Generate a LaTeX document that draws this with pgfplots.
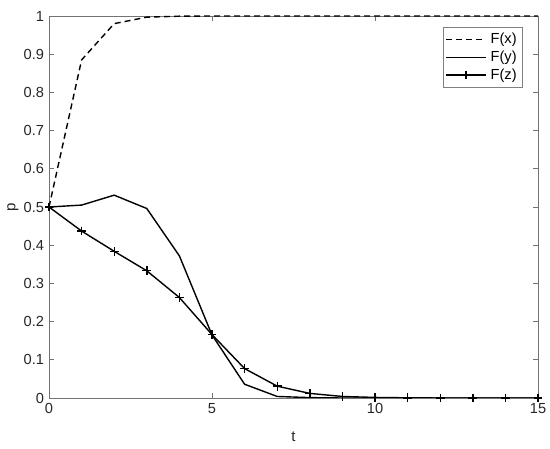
\documentclass[border=0pt]{standalone}
\usepackage{fontspec}
\setmainfont{Liberation Sans}
\usepackage{pgfplots}
\pgfplotsset{compat=1.18}

\begin{document}
\fontsize{7bp}{8bp}\selectfont
\begin{tikzpicture}
\useasboundingbox (-24.5bp,-25.5bp) rectangle (250.5bp,199bp);
\begin{axis}[
  at={(0,0)}, anchor=south west,
  scale only axis,
  width=244.5bp, height=191bp,
  xmin=0, xmax=15, ymin=0, ymax=1,
  xtick={0,5,10,15},
  ytick={0,0.1,...,1},
  yticklabel style={/pgf/number format/fixed, /pgf/number format/precision=1},
  /pgf/number format/assume math mode=true,
  tick align=inside,
  major tick length=2.5bp,
  axis line style={black!55, line width=0.4bp},
  every tick/.style={black!55, line width=0.4bp},
  tick label style={font=\fontsize{7.3bp}{8bp}\selectfont, text=black!85},
  xlabel={t}, ylabel={p},
  label style={font=\fontsize{7.5bp}{8bp}\selectfont, text=black!85},
  xlabel style={at={(axis description cs:0.5,-0.102)}, anchor=center},
  ylabel style={at={(axis description cs:-0.0736,0.5)}, anchor=center},
  legend style={at={(axis cs:15,1)}, anchor=north east, xshift=-7.5bp, yshift=-5.5bp,
    draw=black!50, line width=0.4bp, font=\fontsize{7.3bp}{8bp}\selectfont,
    inner sep=1bp, row sep=-1.5bp, text=black},
  legend cell align=left,
  legend image code/.code={
    \draw[mark repeat=2, mark phase=2, #1, line width=0.7bp]
      plot coordinates {(0cm,0cm) (0.35cm,0cm) (0.7cm,0cm)};},
  every axis plot/.append style={line width=0.7bp, black},
]
\addplot[dashed, dash pattern=on 3bp off 2bp] coordinates {
  (0,0.5) (1,0.885) (2,0.980) (3,0.997) (4,0.9995) (5,1) (6,1) (7,1) (8,1)
  (9,1) (10,1) (11,1) (12,1) (13,1) (14,1) (15,1)
};
\addlegendentry{F(x)}
\addplot[solid] coordinates {
  (0,0.5) (1,0.505) (2,0.531) (3,0.496) (4,0.372) (5,0.165) (6,0.036) (7,0.004)
  (8,0.001) (9,0) (10,0) (11,0) (12,0) (13,0) (14,0) (15,0)
};
\addlegendentry{F(y)}
\addplot[solid, mark=+, mark size=2.2bp] coordinates {
  (0,0.5) (1,0.437) (2,0.384) (3,0.333) (4,0.263) (5,0.166) (6,0.077) (7,0.031)
  (8,0.012) (9,0.004) (10,0.0015) (11,0.0005) (12,0) (13,0) (14,0) (15,0)
};
\addlegendentry{F(z)}
\end{axis}
\end{tikzpicture}
\end{document}
